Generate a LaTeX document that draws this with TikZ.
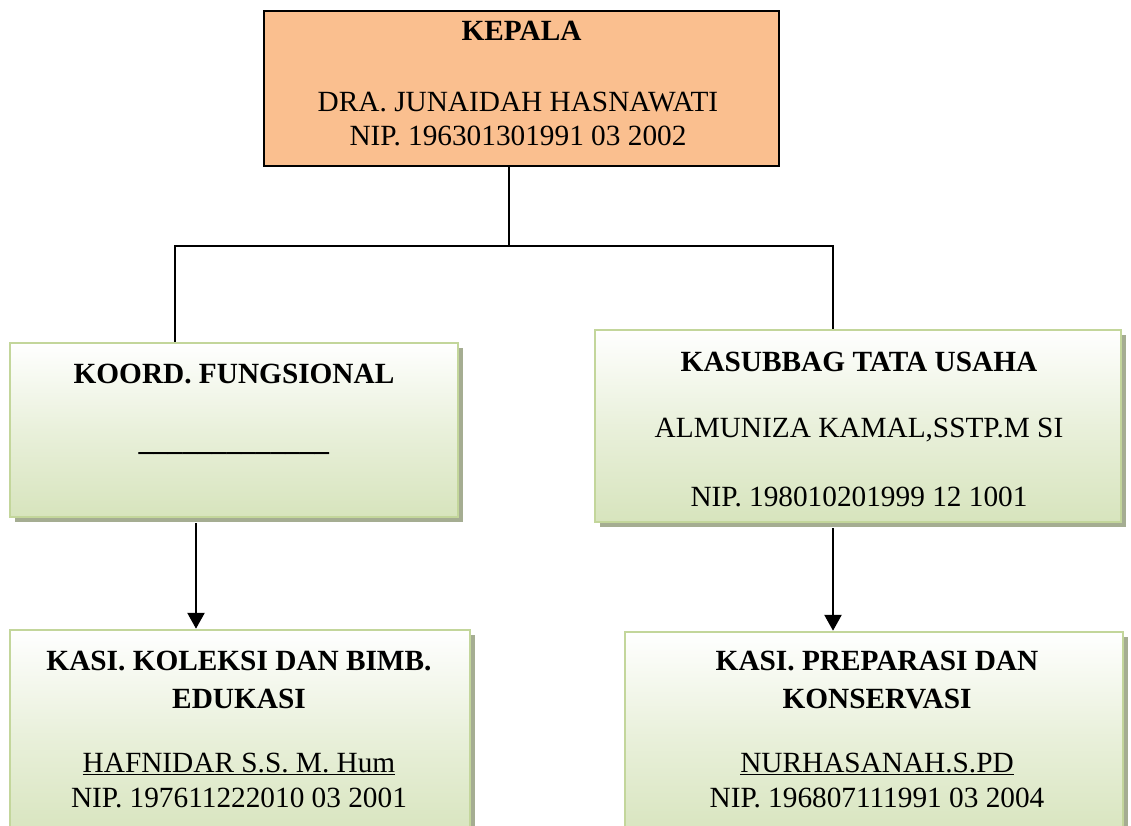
\documentclass[tikz,border=0pt]{standalone}
\usepackage{fontspec}
\setmainfont{Liberation Serif}
\usetikzlibrary{arrows.meta,shadows}
\definecolor{peach}{HTML}{FABF8F}
\definecolor{gborder}{HTML}{C3D69B}
\definecolor{gbottom}{HTML}{D7E4BD}
\definecolor{gshadow}{RGB}{165,173,146}
\tikzset{
  headbox/.style={draw=black, line width=2.6pt, fill=peach, rectangle, inner sep=0pt},
  greenbox/.style={draw=gborder, line width=2.5pt, rectangle, inner sep=0pt,
    top color=white, bottom color=gbottom, middle color={gbottom!55!white},
    general shadow={shadow xshift=5pt, shadow yshift=-5pt, fill=gshadow}},
  txt/.style={anchor=base, inner sep=0pt, font=\fontsize{29.3}{34}\selectfont},
  conn/.style={draw=black, line width=2.6pt},
  arr/.style={conn, -{Triangle[width=17pt,length=16pt]}},
}
\begin{document}
\begin{tikzpicture}[x=1pt,y=-1pt]
\useasboundingbox (0,0) rectangle (1131,825);
\clip (0,0) rectangle (1131,825);
% boxes
\node[headbox, minimum width=515pt, minimum height=155pt] (top) at (521.5,88.5) {};
\node[greenbox, minimum width=448pt, minimum height=174pt] (lbox) at (234,430) {};
\node[greenbox, minimum width=526pt, minimum height=192pt] (rbox) at (858,426) {};
\node[greenbox, minimum width=460pt, minimum height=210pt] (blbox) at (240,735) {};
\node[greenbox, minimum width=498pt, minimum height=208pt] (brbox) at (874,736) {};
% connector coordinates
\coordinate (j) at (509,246);
\coordinate (jl) at (175,246);
\coordinate (jr) at (833,246);
\coordinate (al) at (196,0);
\coordinate (ar) at (833,0);
\draw[conn] (j |- top.south) -- (j);
\draw[conn] (jl |- lbox.north) -- (jl) -- (jr) -- (jr |- rbox.north);
\draw[arr] ([yshift=-5pt]lbox.south -| al) -- (al |- blbox.north);
\draw[arr] ([yshift=-5pt]rbox.south -| ar) -- (ar |- brbox.north);
% texts: top
\node[txt] (t1) at (521.5,40) {\textbf{KEPALA}};
\node[txt] (t2) at (518,111) {DRA. JUNAIDAH HASNAWATI};
\node[txt] (t3) at (518,145) {NIP. 196301301991 03 2002};
% left middle
\node[txt] (l1) at (234,383) {\textbf{KOORD. FUNGSIONAL}};
\node[txt] (l2) at (234,450) {\textbf{\_\_\_\_\_\_\_\_\_\_\_\_\_}};
% right middle
\node[txt] (r1) at (859,371) {\textbf{KASUBBAG TATA USAHA}};
\node[txt] (r2) at (859,437) {ALMUNIZA KAMAL,SSTP.M SI};
\node[txt] (r3) at (859,506) {NIP. 198010201999 12 1001};
% bottom left
\node[txt] (bl1) at (239,670) {\textbf{KASI. KOLEKSI DAN BIMB.}};
\node[txt] (bl2) at (239,708) {\textbf{EDUKASI}};
\node[txt] (bl3) at (239,772) {\underline{HAFNIDAR S.S. M. Hum}};
\node[txt] (bl4) at (239,807) {NIP. 197611222010 03 2001};
% bottom right
\node[txt] (br1) at (877,670) {\textbf{KASI. PREPARASI DAN}};
\node[txt] (br2) at (877,708) {\textbf{KONSERVASI}};
\node[txt] (br3) at (877,772) {\underline{NURHASANAH.S.PD}};
\node[txt] (br4) at (877,807) {NIP. 196807111991 03 2004};
\end{tikzpicture}
\end{document}
